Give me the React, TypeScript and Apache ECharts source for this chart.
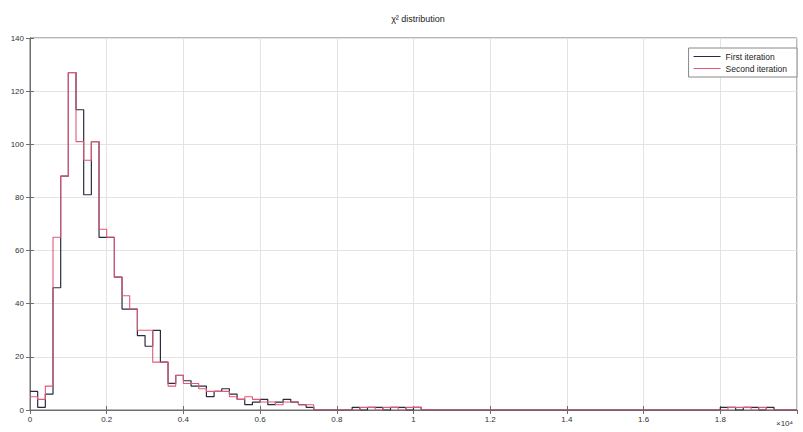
import React, { useEffect, useRef } from "react";
import * as echarts from "echarts";

// Histogram bin width (×10⁴ units), 100 bins from 0 to 2
const binWidth = 0.02;

const firstIteration = [
  7, 1, 6, 46, 88, 127, 113, 81, 101, 65,
  65, 50, 38, 38, 28, 24, 30, 18, 10, 13,
  11, 9, 9, 5, 7, 8, 6, 4, 2, 3,
  4, 2, 3, 4, 3, 2, 1, 0, 0, 0,
  0, 0, 1, 0, 1, 1, 0, 1, 1, 0,
  1, 0, 0, 0, 0, 0, 0, 0, 0, 0,
  0, 0, 0, 0, 0, 0, 0, 0, 0, 0,
  0, 0, 0, 0, 0, 0, 0, 0, 0, 0,
  0, 0, 0, 0, 0, 0, 0, 0, 0, 0,
  1, 1, 0, 1, 1, 0, 1, 0, 0, 0,
];

const secondIteration = [
  5, 4, 9, 65, 88, 127, 101, 94, 101, 68,
  65, 50, 43, 38, 30, 30, 18, 18, 9, 13,
  10, 10, 8, 7, 7, 7, 5, 4, 5, 4,
  3, 3, 2, 3, 3, 2, 2, 0, 0, 0,
  0, 0, 0, 1, 1, 0, 1, 1, 0, 1,
  1, 0, 0, 0, 0, 0, 0, 0, 0, 0,
  0, 0, 0, 0, 0, 0, 0, 0, 0, 0,
  0, 0, 0, 0, 0, 0, 0, 0, 0, 0,
  0, 0, 0, 0, 0, 0, 0, 0, 0, 0,
  0, 1, 1, 1, 0, 1, 0, 0, 0, 0,
];

const seriesNames = ["First iteration", "Second iteration"];
const xTicks = ["0", "0.2", "0.4", "0.6", "0.8", "1", "1.2", "1.4", "1.6", "1.8"];
const yTicks = [0, 20, 40, 60, 80, 100, 120, 140];
const titleText = "χ² distribution";
const multiplierText = "×10⁴";

const FONT = "'Liberation Sans', Arial, sans-serif";

function stairs(values: number[]): number[][] {
  const pts = values.map((v, i) => [+(i * binWidth).toFixed(4), v]);
  pts.push([+(values.length * binWidth).toFixed(4), values[values.length - 1]]);
  return pts;
}

export default function App() {
  const ref = useRef<HTMLDivElement>(null);
  useEffect(() => {
    if (!ref.current) return;
    const chart = echarts.init(ref.current, undefined, { renderer: "svg" });
    const axisColor = "#6e6e6e";
    const gridColor = "#e3e3e3";
    const labelStyle = { fontSize: 8, color: "#333", fontFamily: FONT };
    chart.setOption({
      animation: false,
      backgroundColor: "#ffffff",
      title: {
        text: titleText,
        left: 413,
        top: 9,
        textAlign: "center",
        textStyle: { fontSize: 9, fontWeight: "normal", color: "#222", fontFamily: FONT },
      },
      legend: {
        right: 6,
        top: 48,
        orient: "vertical",
        data: seriesNames,
        backgroundColor: "#fff",
        borderColor: "#888",
        borderWidth: 1,
        borderRadius: 0,
        padding: [4, 10, 4, 5],
        itemGap: 3,
        itemWidth: 27,
        itemHeight: 8,
        icon: "path://M0,4L27,4L27,5L0,5Z",
        textStyle: { fontSize: 8.5, color: "#222", fontFamily: FONT },
      },
      grid: {
        left: 30,
        top: 38,
        width: 767,
        height: 372,
        show: true,
        borderColor: axisColor,
        borderWidth: 1,
        backgroundColor: "#fff",
      },
      xAxis: [
        {
          type: "value",
          min: 0,
          max: 2,
          interval: 0.2,
          axisLine: { show: true, lineStyle: { color: axisColor } },
          axisTick: { show: true, inside: true, length: 4, lineStyle: { color: axisColor } },
          splitLine: { show: true, lineStyle: { color: gridColor, width: 1 } },
          axisLabel: {
            ...labelStyle,
            margin: 5,
            showMaxLabel: false,
            formatter: (v: number) => {
              const idx = Math.round(v / 0.2);
              return idx < xTicks.length ? xTicks[idx] : "";
            },
          },
        },
        {
          type: "value",
          position: "top",
          min: 0,
          max: 2,
          interval: 0.2,
          axisLine: { show: true, lineStyle: { color: axisColor } },
          axisTick: { show: true, inside: true, length: 4, lineStyle: { color: axisColor } },
          splitLine: { show: false },
          axisLabel: { show: false },
        },
      ],
      yAxis: [
        {
          type: "value",
          min: yTicks[0],
          max: yTicks[yTicks.length - 1],
          interval: 20,
          axisLine: { show: true, lineStyle: { color: axisColor } },
          axisTick: { show: true, inside: true, length: 4, lineStyle: { color: axisColor } },
          splitLine: { show: true, lineStyle: { color: gridColor, width: 1 } },
          axisLabel: { ...labelStyle, margin: 6 },
        },
        {
          type: "value",
          position: "right",
          min: yTicks[0],
          max: yTicks[yTicks.length - 1],
          interval: 20,
          axisLine: { show: true, lineStyle: { color: axisColor } },
          axisTick: { show: true, inside: true, length: 4, lineStyle: { color: axisColor } },
          splitLine: { show: false },
          axisLabel: { show: false },
        },
      ],
      graphic: [
        {
          type: "text",
          left: 776,
          top: 419,
          style: { text: multiplierText, fontSize: 8, fill: "#333", fontFamily: FONT },
        },
      ],
      series: [
        {
          name: seriesNames[0],
          type: "line",
          step: "end",
          data: stairs(firstIteration),
          showSymbol: false,
          symbol: "none",
          lineStyle: { color: "#2a2a44", width: 1.2 },
          itemStyle: { color: "#2a2a44" },
          z: 3,
        },
        {
          name: seriesNames[1],
          type: "line",
          step: "end",
          data: stairs(secondIteration),
          showSymbol: false,
          symbol: "none",
          lineStyle: { color: "#e05a78", width: 1.1 },
          itemStyle: { color: "#e05a78" },
          z: 4,
        },
      ],
    });
    return () => chart.dispose();
  }, []);
  return (
    <div
      ref={ref}
      style={{ position: "fixed", left: 0, top: 0, width: 803, height: 432, background: "#fff" }}
    />
  );
}
